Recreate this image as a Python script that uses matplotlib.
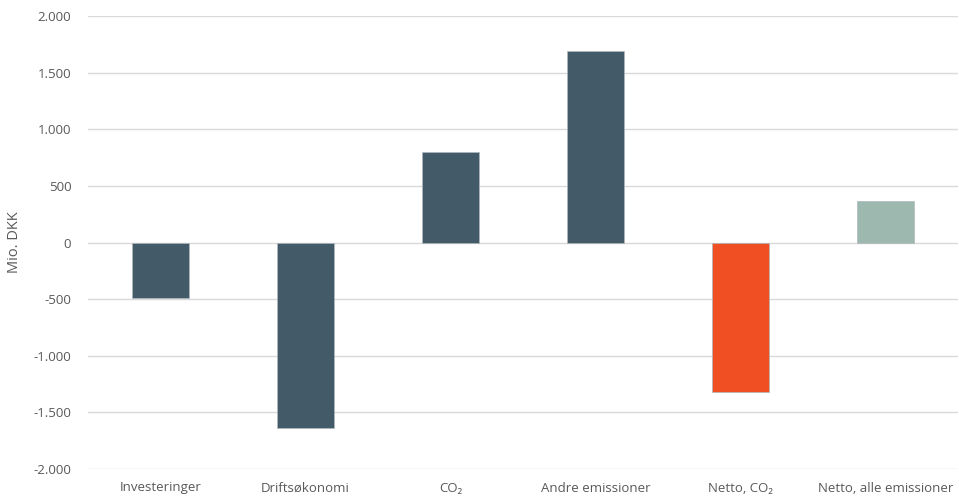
import matplotlib
matplotlib.use("Agg")
import matplotlib.pyplot as plt
from matplotlib.ticker import FuncFormatter

categories = ["Investeringer", "Driftsøkonomi", "CO₂", "Andre emissioner", "Netto, CO₂", "Netto, alle emissioner"]
values = [-490, -1635, 800, 1690, -1320, 370]
colors = ["#435a68", "#435a68", "#435a68", "#435a68", "#f04e23", "#9db8ae"]
yticks = [-2000, -1500, -1000, -500, 0, 500, 1000, 1500, 2000]

plt.rcParams['font.family'] = ['Open Sans', 'DejaVu Sans']

fig = plt.figure(figsize=(9.59, 5.0), dpi=100)
ax = fig.add_axes([88/959, 1-469/500, 870/959, (469-16)/500])

x = list(range(len(categories)))
ax.bar(x, values, width=0.39, color=colors, edgecolor="#b0b8bd", linewidth=0.5, zorder=3)

ax.set_ylim(-2000, 2000)
ax.set_xlim(-0.5, len(categories)-0.5)
ax.set_yticks(yticks)
ax.yaxis.set_major_formatter(FuncFormatter(lambda v, p: f"{int(v):,}".replace(",", ".")))
ax.set_xticks(x)
ax.set_xticklabels(categories)
ax.grid(axis="y", color="#d9d9d9", linewidth=1, zorder=0)
for s in ax.spines.values():
    s.set_visible(False)
ax.tick_params(axis="both", length=0, labelsize=9.5, colors="#595959")
ax.tick_params(axis="x", pad=9)
ax.tick_params(axis="y", pad=12)
ax.set_ylabel("Mio. DKK", fontsize=10.5, color="#595959", labelpad=8)

fig.savefig("out.png", dpi=100)
